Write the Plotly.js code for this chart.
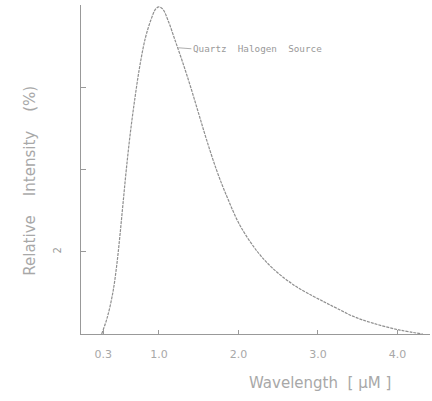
<!DOCTYPE html>
<html>
<head>
<meta charset="utf-8">
<script src="https://cdn.plot.ly/plotly-3.0.1.min.js"></script>
<style>html,body{margin:0;padding:0;background:#fff;}#chart{width:432px;height:401px;}</style>
</head>
<body>
<div id="chart"></div>
<script>
// Wavelength (µm) and relative intensity (%)
var wavelength = [0.28, 0.35, 0.42, 0.47, 0.51, 0.55, 0.59, 0.64, 0.70, 0.76, 0.83, 0.90,
                  0.96, 1.00, 1.05, 1.12, 1.20, 1.30, 1.40, 1.50, 1.60, 1.73, 1.86, 2.02,
                  2.24, 2.43, 2.69, 2.94, 3.10, 3.24, 3.45, 3.69, 4.03, 4.32];
var intensity  = [0, 5, 12.5, 21, 30, 40, 50, 61, 72, 81.5, 90, 95.5,
                  98.8, 99.4, 98.7, 95, 89.5, 82.5, 75, 67, 59, 49.5, 41.5, 33,
                  25, 20, 15, 11.5, 9.5, 7.8, 5.3, 3.3, 1.2, 0];

var xTickVals = [0.3, 1, 2, 3, 4];
var xTickText = ["0.3", "1.0", "2.0", "3.0", "4.0"];
var yTickVals = [25, 50, 75, 100];
var yTickText = ["2", "", "", ""];

var seriesLabel = "Quartz\u00a0\u00a0Halogen\u00a0\u00a0Source";
var xTitle = "Wavelength\u00a0\u00a0[\u00a0\u03bcM\u00a0]";
var yTitle = "Relative\u00a0\u00a0\u00a0\u00a0Intensity\u00a0\u00a0\u00a0\u00a0(%)";

var grey = "#a8a8a8";

var trace = {
  x: wavelength, y: intensity, type: "scatter", mode: "lines",
  line: {color: "#8f8f8f", width: 1.2, dash: "3px,1px", shape: "spline", smoothing: 1},
  hoverinfo: "skip"
};

var layout = {
  width: 432, height: 401,
  margin: {l: 81, r: 2, t: 5, b: 67},
  paper_bgcolor: "#ffffff", plot_bgcolor: "#ffffff",
  showlegend: false,
  font: {family: "DejaVu Sans, Arial, sans-serif", color: grey},
  xaxis: {
    range: [0.02, 4.41], showgrid: false, zeroline: false,
    showline: true, linecolor: "#999999", linewidth: 1.2,
    tickmode: "array", tickvals: xTickVals, ticktext: xTickText,
    ticks: "inside", ticklen: 4, tickcolor: "#999999",
    ticklabelstandoff: 10,
    tickfont: {size: 11, color: grey}
  },
  yaxis: {
    range: [0, 100], showgrid: false, zeroline: false,
    showline: true, linecolor: "#999999", linewidth: 1.2,
    tickmode: "array", tickvals: yTickVals, ticktext: yTickText,
    ticks: "inside", ticklen: 5, tickcolor: "#999999",
    tickangle: -90, ticklabelstandoff: 15,
    tickfont: {size: 10, color: "#999999"}
  },
  annotations: [
    {x: 1.245, y: 87, xref: "x", yref: "y", text: seriesLabel, showarrow: true,
     arrowhead: 0, arrowwidth: 0.8, arrowcolor: "#999999", ax: 13, ay: 1,
     xanchor: "left", yanchor: "middle",
     font: {family: "DejaVu Sans Mono, monospace", size: 9.3, color: "#999999"}},
    {x: -0.147, y: 0.465, xref: "paper", yref: "paper", text: yTitle, showarrow: false,
     textangle: -90, xanchor: "center", yanchor: "middle",
     font: {family: "DejaVu Sans, Arial, sans-serif", size: 15, color: grey}},
    {x: 0.685, y: -0.149, xref: "paper", yref: "paper", text: xTitle, showarrow: false,
     xanchor: "center", yanchor: "middle",
     font: {family: "DejaVu Sans, Arial, sans-serif", size: 15, color: grey}}
  ]
};

Plotly.newPlot("chart", [trace], layout, {displayModeBar: false, staticPlot: true});
</script>
</body>
</html>
